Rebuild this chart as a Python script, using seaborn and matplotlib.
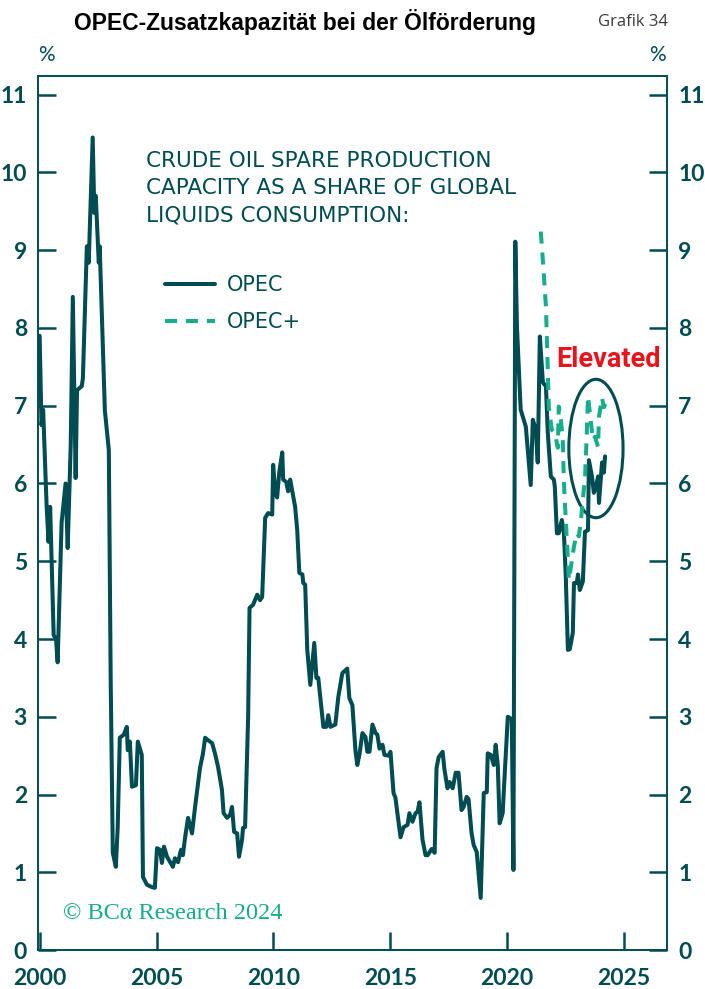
import matplotlib
matplotlib.use('Agg')
import matplotlib.pyplot as plt
import seaborn as sns
import pandas as pd
from matplotlib.patches import Ellipse

TEAL = '#004c53'
GREEN = '#16ad8b'

# OPEC spare capacity, % of global liquids consumption
opec_year = [2000.00, 2000.08, 2000.15, 2000.30, 2000.38, 2000.45, 2000.60, 2000.70, 2000.77, 2000.94,
             2001.11, 2001.20, 2001.33, 2001.42, 2001.54, 2001.60, 2001.80, 2001.85, 2002.02, 2002.10,
             2002.27, 2002.34, 2002.40, 2002.53, 2002.57, 2002.79, 2002.96, 2003.04, 2003.13, 2003.26,
             2003.34, 2003.43, 2003.60, 2003.73, 2003.77, 2003.86, 2003.95, 2004.12, 2004.20, 2004.37,
             2004.42, 2004.59, 2004.80, 2004.93, 2005.02, 2005.15, 2005.23, 2005.32, 2005.45, 2005.70,
             2005.79, 2005.92, 2006.05, 2006.13, 2006.22, 2006.35, 2006.52, 2006.65, 2006.86, 2006.99,
             2007.08, 2007.20, 2007.38, 2007.50, 2007.63, 2007.80, 2007.87, 2008.02, 2008.15, 2008.23,
             2008.32, 2008.45, 2008.53, 2008.66, 2008.70, 2008.79, 2008.92, 2008.98, 2009.13, 2009.31,
             2009.43, 2009.52, 2009.65, 2009.78, 2009.95, 2009.99, 2010.08, 2010.16, 2010.25, 2010.38,
             2010.42, 2010.55, 2010.63, 2010.72, 2010.81, 2010.93, 2011.02, 2011.11, 2011.24, 2011.28,
             2011.36, 2011.45, 2011.58, 2011.75, 2011.84, 2011.92, 2012.14, 2012.26, 2012.35, 2012.44,
             2012.65, 2012.78, 2012.95, 2013.16, 2013.25, 2013.38, 2013.51, 2013.59, 2013.68, 2013.81,
             2013.94, 2014.02, 2014.11, 2014.24, 2014.37, 2014.45, 2014.54, 2014.67, 2014.75, 2014.92,
             2015.01, 2015.14, 2015.22, 2015.44, 2015.57, 2015.74, 2015.82, 2015.95, 2016.08, 2016.17,
             2016.25, 2016.38, 2016.51, 2016.60, 2016.77, 2016.90, 2016.98, 2017.07, 2017.24, 2017.32,
             2017.45, 2017.54, 2017.67, 2017.80, 2017.92, 2018.05, 2018.14, 2018.27, 2018.35, 2018.48,
             2018.57, 2018.70, 2018.87, 2019.00, 2019.13, 2019.17, 2019.30, 2019.43, 2019.51, 2019.60,
             2019.68, 2019.81, 2019.90, 2020.03, 2020.20, 2020.27, 2020.35, 2020.42, 2020.58, 2020.80,
             2021.01, 2021.10, 2021.23, 2021.31, 2021.40, 2021.53, 2021.66, 2021.74, 2021.87, 2022.00,
             2022.04, 2022.13, 2022.21, 2022.34, 2022.43, 2022.51, 2022.60, 2022.68, 2022.81, 2022.86,
             2022.98, 2023.03, 2023.11, 2023.24, 2023.33, 2023.46, 2023.50, 2023.63, 2023.71, 2023.80,
             2023.89, 2023.93, 2024.06, 2024.14, 2024.19]
opec_val = [7.90, 6.75, 6.95, 5.70, 5.25, 5.70, 4.05, 4.00, 3.70, 5.50,
            6.00, 5.17, 6.50, 8.40, 6.07, 7.20, 7.25, 7.35, 9.05, 8.84,
            10.45, 9.48, 9.70, 8.84, 9.05, 6.94, 6.43, 3.47, 1.25, 1.07,
            1.58, 2.73, 2.77, 2.87, 2.57, 2.68, 2.10, 2.12, 2.68, 2.51,
            0.94, 0.84, 0.81, 0.80, 1.31, 1.29, 1.12, 1.33, 1.20, 1.07,
            1.18, 1.13, 1.29, 1.22, 1.44, 1.70, 1.50, 1.84, 2.34, 2.53,
            2.73, 2.70, 2.66, 2.53, 2.36, 2.06, 1.76, 1.70, 1.74, 1.84,
            1.52, 1.50, 1.20, 1.42, 1.57, 1.58, 3.00, 4.40, 4.44, 4.57,
            4.50, 4.54, 5.56, 5.62, 5.60, 6.24, 5.88, 5.82, 6.14, 6.40,
            6.05, 6.02, 5.90, 6.05, 5.90, 5.70, 5.40, 4.85, 4.83, 4.72,
            4.70, 3.86, 3.41, 3.95, 3.50, 3.50, 2.87, 2.87, 3.02, 2.87,
            2.90, 3.26, 3.56, 3.62, 3.24, 3.15, 2.57, 2.38, 2.51, 2.79,
            2.74, 2.55, 2.55, 2.90, 2.79, 2.77, 2.59, 2.64, 2.51, 2.50,
            2.55, 2.02, 1.96, 1.45, 1.58, 1.61, 1.76, 1.65, 1.76, 1.78,
            1.90, 1.42, 1.22, 1.22, 1.30, 1.25, 2.34, 2.48, 2.55, 2.32,
            2.08, 2.16, 2.08, 2.28, 2.28, 1.80, 1.84, 1.97, 1.94, 1.50,
            1.35, 1.26, 0.67, 2.02, 2.03, 2.53, 2.51, 2.38, 2.64, 2.38,
            1.63, 1.76, 2.28, 3.00, 2.97, 1.03, 9.11, 8.02, 6.95, 6.73,
            5.98, 6.82, 6.69, 6.27, 7.89, 7.30, 7.25, 6.65, 6.09, 6.05,
            5.96, 5.36, 5.36, 5.53, 5.36, 4.80, 3.86, 3.87, 4.08, 4.72,
            4.72, 4.83, 4.63, 4.74, 5.38, 5.40, 6.30, 6.09, 5.88, 5.96,
            6.09, 5.75, 6.27, 6.14, 6.35]

# OPEC+ series (dashed)
plus_year = [2021.44, 2021.55, 2021.66, 2021.74, 2021.78, 2021.91, 2022.04, 2022.17, 2022.21, 2022.30,
             2022.38, 2022.43, 2022.51, 2022.60, 2022.64, 2022.73, 2022.86, 2022.98, 2023.07, 2023.16,
             2023.28, 2023.33, 2023.41, 2023.46, 2023.54, 2023.67, 2023.76, 2023.89, 2023.93, 2024.06,
             2024.14, 2024.23]
plus_val = [9.24, 8.78, 8.28, 7.46, 6.99, 6.69, 6.65, 6.46, 6.99, 6.82,
            6.56, 6.01, 5.53, 5.02, 4.76, 4.93, 5.19, 5.36, 5.32, 5.53,
            5.92, 6.05, 6.65, 7.12, 6.91, 6.56, 6.60, 6.47, 6.86, 7.10,
            6.98, 7.04]

x_ticks = [2000, 2005, 2010, 2015, 2020, 2025]
y_ticks = list(range(0, 12))

opec_df = pd.DataFrame({'year': opec_year, 'share': opec_val})
plus_df = pd.DataFrame({'year': plus_year, 'share': plus_val})

sns.set_theme(style='white')
plt.rcParams['font.family'] = ['Lato', 'DejaVu Sans']

fig = plt.figure(figsize=(7.05, 9.89), dpi=100)
ax = fig.add_axes([0.0539, 0.0394, 0.8922, 0.8837])

sns.lineplot(data=opec_df, x='year', y='share', ax=ax, color=TEAL, lw=2.9, label='OPEC', sort=False)
sns.lineplot(data=plus_df, x='year', y='share', ax=ax, color=GREEN, lw=2.9, label='OPEC+',
             sort=False, linestyle=(0, (3.0, 2.2)))

ax.set_xlim(1999.93, 2026.84)
ax.set_ylim(0, 11.24)
ax.set_xticks(x_ticks)
ax.set_yticks(y_ticks)
ax.set_xlabel('')
ax.set_ylabel('')

for side in ['left', 'right', 'top', 'bottom']:
    ax.spines[side].set_color(TEAL)
    ax.spines[side].set_linewidth(1.4)

ax.tick_params(axis='both', direction='in', length=13, width=1.8, color=TEAL,
               labelcolor=TEAL, labelsize=16.5)
ax.tick_params(axis='y', left=True, right=True, labelleft=True, labelright=True, pad=8)
ax.tick_params(axis='x', bottom=True, pad=13)
for tick in ax.xaxis.get_major_ticks() + ax.yaxis.get_major_ticks():
    tick.label1.set_fontweight('bold')
    tick.label2.set_fontweight('bold')

ax.add_patch(Ellipse((2023.8, 6.45), 2.32, 1.78, fill=False, edgecolor=TEAL, lw=2.2))

ax.text(0.172, 0.914, 'CRUDE OIL SPARE PRODUCTION\nCAPACITY AS A SHARE OF GLOBAL\nLIQUIDS CONSUMPTION:',
        transform=ax.transAxes, ha='left', va='top', fontsize=15.5, color=TEAL, linespacing=1.45,
        family=['DejaVu Sans'])

ax.legend(loc='upper left', bbox_to_anchor=(0.202, 0.772), frameon=False,
          prop={'family': ['DejaVu Sans'], 'size': 15},
          handlelength=2.4, handletextpad=0.55, labelspacing=0.8, borderpad=0, borderaxespad=0,
          labelcolor=TEAL)

ax.text(2024.35, 7.59, 'Elevated', ha='center', va='center', fontsize=19.5, fontweight='bold',
        color='#e8141c', family=['Roboto', 'DejaVu Sans'])

ax.text(0.04, 0.042, '© BCα Research 2024', transform=ax.transAxes, ha='left', va='center',
        fontsize=17.5, color=GREEN, family=['Liberation Serif', 'DejaVu Serif'])

fig.text(305 / 705, 1 - 22 / 989, 'OPEC-Zusatzkapazität bei der Ölförderung', ha='center', va='center',
         fontsize=16.5, fontweight='bold', color='black', family=['Liberation Sans', 'DejaVu Sans'])
fig.text(668 / 705, 1 - 22 / 989, 'Grafik 34', ha='right', va='center', fontsize=12, color='#3a3a3a',
         family=['Open Sans', 'DejaVu Sans'])
fig.text(46 / 705, 1 - 55 / 989, '%', ha='center', va='center', fontsize=15, color=TEAL)
fig.text(657 / 705, 1 - 55 / 989, '%', ha='center', va='center', fontsize=15, color=TEAL)

fig.savefig('out.png', dpi=100)
